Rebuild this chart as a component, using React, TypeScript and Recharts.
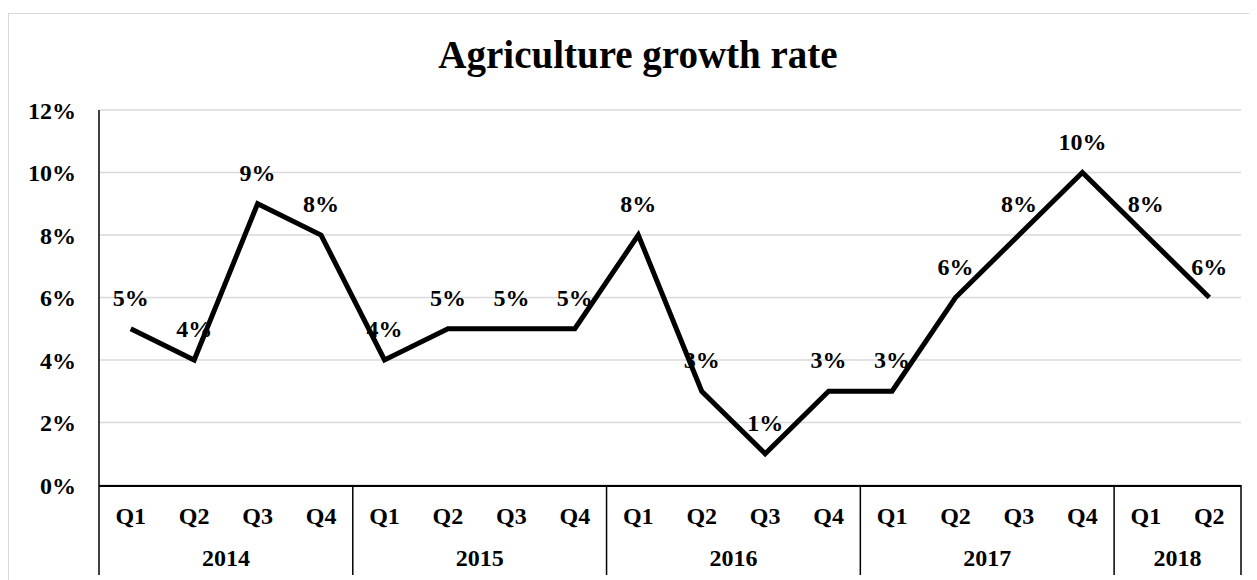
import React from 'react';
import { LineChart, Line, XAxis, YAxis, CartesianGrid, LabelList } from 'recharts';

const quarters = ['Q1', 'Q2', 'Q3', 'Q4', 'Q1', 'Q2', 'Q3', 'Q4', 'Q1', 'Q2', 'Q3', 'Q4', 'Q1', 'Q2', 'Q3', 'Q4', 'Q1', 'Q2'];
const growth = [5, 4, 9, 8, 4, 5, 5, 5, 8, 3, 1, 3, 3, 6, 8, 10, 8, 6];
const years = ['2014', '2015', '2016', '2017', '2018'];
const yearCenters = [2, 6, 10, 14, 17];
const yearBoundaries = [0, 4, 8, 12, 16, 18];
const quarterCenters = quarters.map((_, i) => i + 0.5);
const yTicks = [0, 2, 4, 6, 8, 10, 12];

const data = quarters.map((q, i) => ({ pos: quarterCenters[i], quarter: q, value: growth[i] }));

const FONT = '"Liberation Serif", "Times New Roman", serif';
const tickStyle = { fontFamily: FONT, fontWeight: 700, fontSize: 24, fill: '#000' };

export default function App() {
  return (
    <div style={{ position: 'relative', width: 1249, height: 572 }}>
      <style>{`body{overflow:hidden}`}</style>
      <div
        style={{
          position: 'absolute',
          left: 0,
          top: 5,
          right: 0,
          bottom: 0,
          borderTop: '1.5px solid #d9d9d9',
          borderLeft: '1.5px solid #d9d9d9',
          boxSizing: 'border-box',
        }}
      />
      <div
        style={{
          position: 'absolute',
          left: 0,
          top: 27,
          width: 1260,
          textAlign: 'center',
          fontFamily: FONT,
          fontWeight: 700,
          fontSize: 39,
          lineHeight: '39px',
          color: '#000',
        }}
      >
        Agriculture growth rate
      </div>
      <div style={{ position: 'absolute', left: 0, top: 0 }}>
        <LineChart width={1249} height={572} data={data} margin={{ top: 102, right: 16, bottom: 4, left: 0 }}>
          <CartesianGrid vertical={false} stroke="#d9d9d9" strokeWidth={1.5} xAxisId="q" />
          <XAxis
            xAxisId="div"
            type="number"
            dataKey="pos"
            domain={[0, 18]}
            allowDataOverflow
            ticks={yearBoundaries}
            interval={0}
            tick={() => <g />}
            axisLine={false}
            tickLine={{ stroke: '#000', strokeWidth: 1.5 }}
            tickSize={90}
            height={1}
          />
          <XAxis
            xAxisId="q"
            type="number"
            dataKey="pos"
            domain={[0, 18]}
            allowDataOverflow
            ticks={quarterCenters}
            interval={0}
            tickFormatter={(v: number) => quarters[Math.floor(v)]}
            axisLine={{ stroke: '#000', strokeWidth: 2 }}
            tickLine={false}
            tickSize={0}
            tickMargin={21}
            tick={tickStyle}
            height={45}
          />
          <XAxis
            xAxisId="yr"
            type="number"
            dataKey="pos"
            domain={[0, 18]}
            allowDataOverflow
            ticks={yearCenters}
            interval={0}
            tickFormatter={(v: number) => years[yearCenters.indexOf(v)]}
            axisLine={false}
            tickLine={false}
            tickSize={0}
            tickMargin={18}
            tick={tickStyle}
            height={45}
          />
          <YAxis
            domain={[0, 12]}
            ticks={yTicks}
            interval={0}
            tickFormatter={(v: number) => `${v}%`}
            axisLine={{ stroke: '#000', strokeWidth: 1.5 }}
            tickLine={false}
            tickSize={0}
            tickMargin={23}
            tick={tickStyle}
            width={91}
          />
          <Line
            xAxisId="q"
            type="linear"
            dataKey="value"
            stroke="#000"
            strokeWidth={5}
            dot={false}
            activeDot={false}
            isAnimationActive={false}
          >
            <LabelList
              dataKey="value"
              position="top"
              offset={23}
              formatter={(v: number) => `${v}%`}
              style={{ fontFamily: FONT, fontWeight: 700, fontSize: 24, fill: '#000' }}
            />
          </Line>
        </LineChart>
      </div>
    </div>
  );
}
